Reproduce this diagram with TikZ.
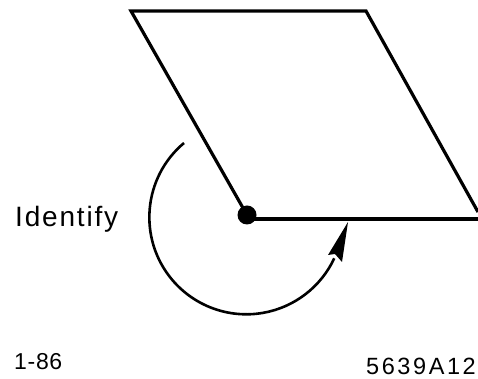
\documentclass[tikz,border=0pt]{standalone}
\usepackage{fontspec}
\setmainfont{Liberation Sans}
\begin{document}
\begin{tikzpicture}[
        x=1pt,
        y=1pt,
        edge/.style={line width=3.2pt,line join=miter},
        turn/.style={line width=2.6pt},
        caption/.style={inner sep=0,anchor=base west}
    ]

    % ---------- frame ----------
    \useasboundingbox (0,0) rectangle (478,379);

    % ---------- corners ----------
    \coordinate (hinge) at (247,164);
    \coordinate (foot) at (252,160);
    \coordinate (topleft) at (131,368);
    \coordinate (topright) at (366,368);
    \coordinate (right) at (478,167);
    \coordinate (lower) at (478,160);

    % ---------- sheet ----------
    \draw[edge] (hinge) -- (topleft) -- (topright) -- (right);
    \draw[edge] (foot) -- (lower);
    \fill (hinge) circle (9.5);

    % ---------- rotation ----------
    \def\myr{97}
    \draw[turn] (184,236) arc[start angle=130, end angle=335, radius=\myr];
    \fill (348,157) -- (328,124) -- (335,125) -- (342,117) -- cycle;

    % ---------- labels ----------
    \node[caption] (identify) at (15,152) {\fontsize{28}{28}\selectfont\addfontfeature{LetterSpace=6.5}Identify};
    \node[caption] (date) at (14,9) {\fontsize{23}{23}\selectfont\addfontfeature{LetterSpace=3}1-86};
    \node[caption] (code) at (366,4) {\fontsize{23.5}{23.5}\selectfont\addfontfeature{LetterSpace=11}5639A12};

\end{tikzpicture}
\end{document}
